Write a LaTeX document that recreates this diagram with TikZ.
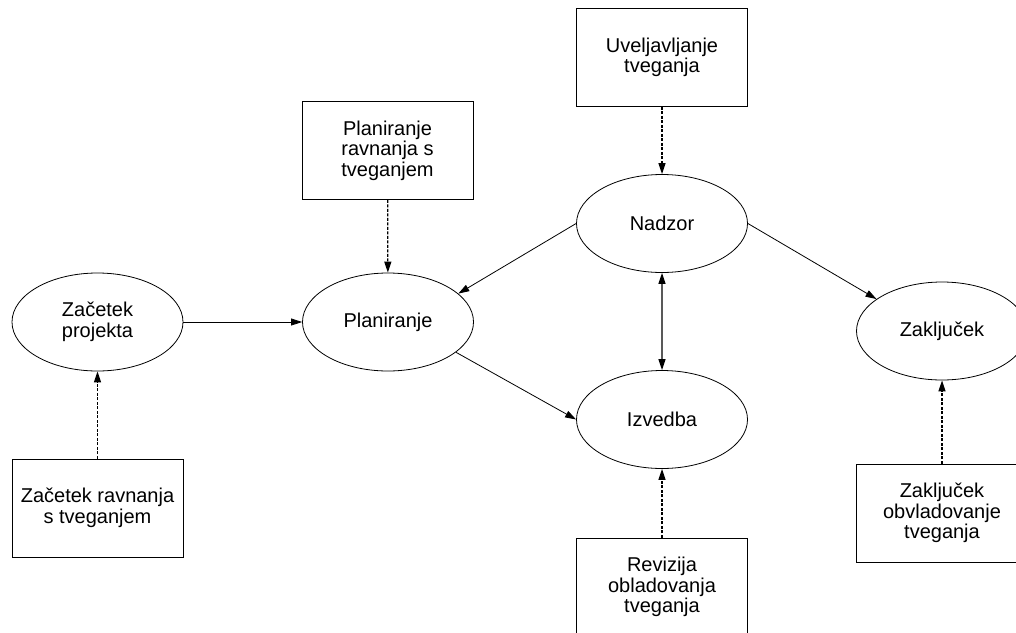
\documentclass[tikz,border=0pt]{standalone}
\usepackage{fontspec}
\setmainfont{Liberation Sans}
\usetikzlibrary{shapes.geometric,arrows.meta}
\begin{document}
\begin{tikzpicture}[x=1pt,y=-1pt,
  every node/.style={font=\fontsize{20}{20.5}\selectfont, align=center, line width=0.8pt, inner sep=0pt},
  phase/.style={draw, ellipse, minimum width=171pt, minimum height=98pt},
  task/.style={draw, rectangle, minimum width=171pt, minimum height=98pt},
  flow/.style={line width=0.8pt, -{Triangle[length=11pt,width=7pt]}},
  feed/.style={line width=1.3pt, dash pattern=on 3pt off 1.5pt, -{Triangle[length=11pt,width=7pt]}},
  link/.style={line width=1.3pt, draw=black!65,
    {Triangle[length=11pt,width=7pt,color=black]}-{Triangle[length=11pt,width=7pt,color=black]}}
]
\clip (0,0) rectangle (1016,632);
\fill[white] (0,0) rectangle (1016,632);

% project phases
\node[phase] (zp) at (97.5,322) {Začetek\\projekta};
\node[phase] (pl) at (388,322) {Planiranje};
\node[phase] (nd) at (662,223.5) {Nadzor};
\node[phase] (iz) at (662,419.5) {Izvedba};
\node[phase] (zk) at (942,331) {Zaključek};

% risk management activities
\node[task] (tzp) at (97.5,508) {Začetek ravnanja\\s tveganjem};
\node[task] (tpl) at (387.5,150.5) {Planiranje\\ravnanja s\\tveganjem};
\node[task] (tnd) at (662,57.5) {Uveljavljanje\\tveganja};
\node[task] (tiz) at (662,587) {Revizija\\obladovanja\\tveganja};
\node[task] (tzk) at (942,513) {Zaključek\\obvladovanje\\tveganja};

% phase flow
\draw[flow] (zp) -- (pl);
\draw[flow] (nd.west) -- (pl.22);
\draw[flow] (pl.-24) -- (iz.west);
\draw[flow] (nd.east) -- (zk.154);
\draw[link] (nd) -- (iz);

% activity inputs
\draw[feed] (tzp) -- (zp);
\draw[feed] (tpl) -- (pl);
\draw[feed] (tnd) -- (nd);
\draw[feed] (tiz) -- (iz);
\draw[feed] (tzk) -- (zk);
\end{tikzpicture}
\end{document}
